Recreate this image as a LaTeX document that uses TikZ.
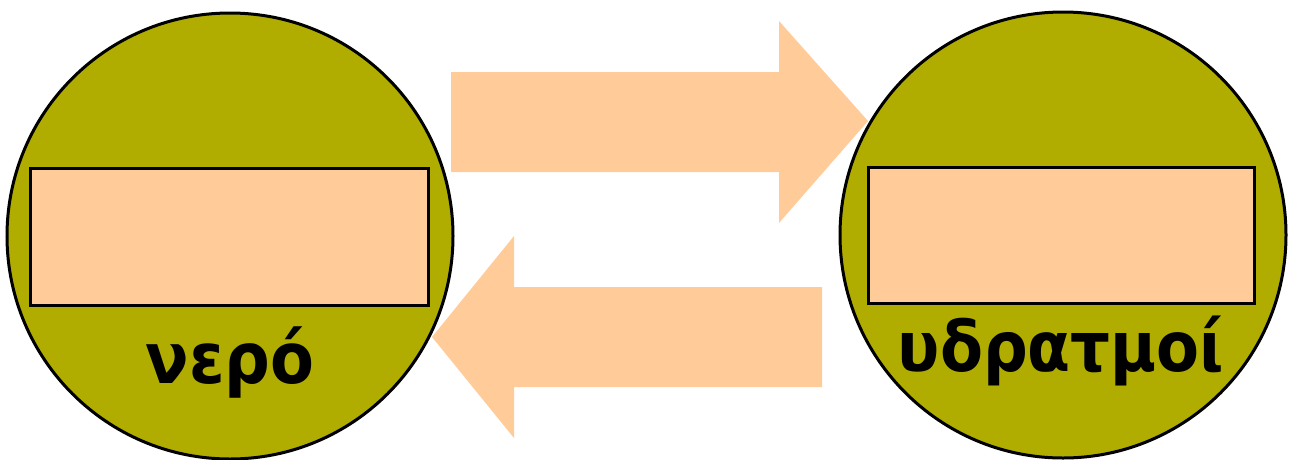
\documentclass[tikz,border=0pt]{standalone}
\usepackage{fontspec}
\newfontfamily\greekfont{DejaVu Sans Condensed}
\definecolor{olive}{RGB}{176,173,0}
\definecolor{peach}{RGB}{255,204,153}
\begin{document}
\begin{tikzpicture}[x=1pt,y=-1pt,
  ball/.style={circle,draw=black,line width=3pt,fill=olive,minimum size=446pt,inner sep=0pt},
  slot/.style={draw=black,line width=3pt,fill=peach,inner sep=0pt},
  lbl/.style={font=\greekfont\bfseries,anchor=base,inner sep=0pt},
  bigarrow/.style={fill=peach,draw=none}]
\useasboundingbox (0,0) rectangle (1290,459);
% arrows
\fill[bigarrow] (451,72) -- (779,72) -- (779,21) -- (868,121) -- (779,223) -- (779,172) -- (451,172) -- cycle;
\fill[bigarrow] (822,287) -- (514,287) -- (514,236) -- (432,337) -- (514,438) -- (514,387) -- (822,387) -- cycle;
% circles
\node[ball] (water) at (230,236) {};
\node[ball] (vapour) at (1063,235) {};
\node[slot,minimum width=398pt,minimum height=137pt] (wbox) at (229,236.5) {};
\node[slot,minimum width=386pt,minimum height=136pt] (vbox) at (1061,235) {};
\node[lbl] (wlbl) at (230,383) {\fontsize{71}{80}\selectfont νερό};
\node[lbl] (vlbl) at (1061,371) {\fontsize{69.5}{80}\selectfont υδρατμοί};
\end{tikzpicture}
\end{document}
